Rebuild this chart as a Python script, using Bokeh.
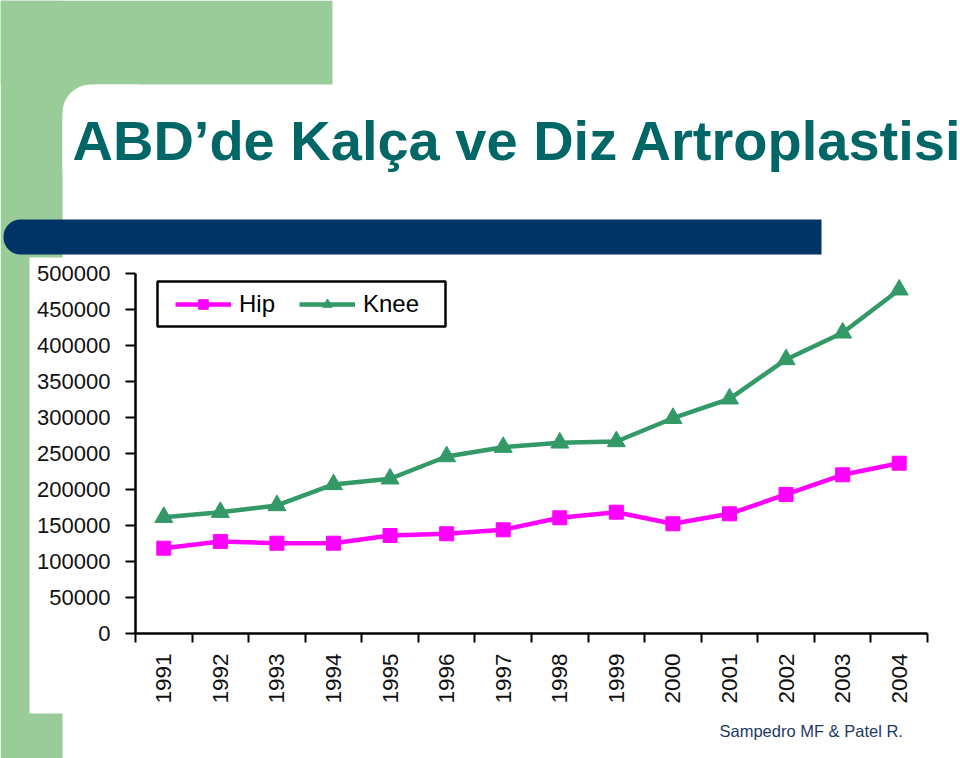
import math
from bokeh.plotting import figure
from bokeh.models import (BoxAnnotation, Label, FixedTicker, NumeralTickFormatter,
                          Range1d, Legend, LegendItem, GridBox)
from bokeh.embed import file_html
from bokeh.resources import INLINE

# ---- data ----
years = [1991, 1992, 1993, 1994, 1995, 1996, 1997, 1998, 1999, 2000, 2001, 2002, 2003, 2004]
hip = [118500, 127800, 125400, 125400, 136100, 138500, 144000, 160700, 168500, 152400,
       166200, 193100, 220400, 236500]
knee = [161500, 168500, 177800, 207000, 214900, 245800, 258800, 264800, 266700, 299000,
        326000, 380600, 417600, 477400]
y_ticks = [0, 50000, 100000, 150000, 200000, 250000, 300000, 350000, 400000, 450000, 500000]
series_names = ["Hip", "Knee"]
title_text = "ABD\u2019de Kalça ve Diz Artroplastisi"
source_text = "Sampedro MF & Patel R."

W, H = 960, 758
FL, FR, FT, FB = 135, 927, 273, 633  # chart frame edges in page pixels
FONT = "Liberation Sans"
GREEN = "#99CC99"
HIP_C = "#FF00FF"
KNEE_C = "#339966"

# ================= slide background (full-page frame) =================
bg = figure(width=W, height=H, output_backend="svg", toolbar_location=None,
            x_range=Range1d(0, W), y_range=Range1d(H, 0),
            x_axis_location=None, y_axis_location=None,
            min_border=0, min_border_left=0, min_border_right=0,
            min_border_top=0, min_border_bottom=0)
bg.outline_line_color = None
bg.grid.visible = False
bg.background_fill_color = "white"
bg.border_fill_color = "white"
bg.frame_align = False


def sbox(l, t, r, b, color, radius=None, line_color=None, line_width=0, fill_alpha=1.0,
         ox=0, oy=H):
    kw = dict(left=l - ox, right=r - ox, top=oy - t, bottom=oy - b,
              left_units="screen", right_units="screen",
              top_units="screen", bottom_units="screen",
              fill_color=color, fill_alpha=fill_alpha,
              line_color=line_color, line_width=line_width, line_alpha=1.0,
              editable=False)
    if radius is not None:
        kw["border_radius"] = radius
    return BoxAnnotation(**kw)


for d in [
    sbox(0, 0, 332, 84, GREEN),
    sbox(0, 0, 62, H, GREEN),
    sbox(60, 82, 95, 117, GREEN),
    sbox(29, 257, 63, 713, "white"),
    sbox(62, 84, 140, 170, "white", radius=(28, 0, 0, 0)),
    sbox(3, 219, 821, 254, "#003366", radius=(17, 0, 0, 17)),
]:
    bg.add_layout(d)

bg.add_layout(Label(x=72, y=H - 140, x_units="screen", y_units="screen",
                    text=title_text, text_font=FONT, text_font_style="bold",
                    text_font_size="56px", text_color="#006666",
                    text_baseline="alphabetic", text_align="left"))
bg.add_layout(Label(x=719, y=H - 730, x_units="screen", y_units="screen",
                    text=source_text, text_font=FONT,
                    text_font_size="16.5px", text_color="#1F3864",
                    text_baseline="alphabetic", text_align="left"))

# ================= chart =================
p = figure(width=W, height=H, output_backend="svg", toolbar_location=None,
           x_range=Range1d(years[0] - 0.5, years[-1] + 0.5),
           y_range=Range1d(y_ticks[0], y_ticks[-1]),
           min_border_left=FL, min_border_right=W - FR,
           min_border_top=FT, min_border_bottom=H - FB)
p.outline_line_color = None
p.background_fill_color = None
p.border_fill_color = None
p.grid.visible = False
p.frame_align = False

hl = p.line(years, hip, line_color=HIP_C, line_width=4.5)
hm = p.scatter(years, hip, marker="square", size=14, fill_color=HIP_C, line_color=HIP_C)
kl = p.line(years, knee, line_color=KNEE_C, line_width=4.5)
km = p.scatter(years, knee, marker="triangle", size=18, fill_color=KNEE_C, line_color=KNEE_C)

legend = Legend(items=[LegendItem(label=series_names[0], renderers=[hl, hm]),
                       LegendItem(label=series_names[1], renderers=[kl, km])],
                orientation="horizontal", location=(175 - FL, FB - 318),
                padding=0, spacing=24, glyph_width=56, glyph_height=24,
                label_standoff=8, label_text_font=FONT, label_text_font_size="24px",
                label_text_color="black",
                border_line_alpha=0, background_fill_alpha=0)
p.add_layout(legend)
p.add_layout(sbox(157, 281, 445, 326, "white", line_color="black", line_width=2.5,
                  fill_alpha=0, ox=FL, oy=FB))

xa = p.xaxis[0]
xa.ticker = FixedTicker(ticks=years, minor_ticks=[y - 0.5 for y in years] + [years[-1] + 0.5])
xa.major_label_overrides = {y: str(y) for y in years}
xa.major_tick_out = 0
xa.major_tick_in = 0
xa.minor_tick_out = 9
xa.minor_tick_in = 0
xa.minor_tick_line_color = "black"
xa.minor_tick_line_width = 2
xa.axis_line_color = "black"
xa.axis_line_width = 2.5
xa.major_label_orientation = math.pi / 2
xa.major_label_standoff = 11
xa.major_label_text_font = FONT
xa.major_label_text_font_size = "22.5px"
xa.major_label_text_color = "#111111"

ya = p.yaxis[0]
ya.ticker = FixedTicker(ticks=y_ticks)
ya.formatter = NumeralTickFormatter(format="0")
ya.major_tick_out = 10
ya.major_tick_in = 0
ya.minor_tick_out = 0
ya.minor_tick_in = 0
ya.major_tick_line_color = "black"
ya.major_tick_line_width = 2
ya.axis_line_color = "black"
ya.axis_line_width = 2.5
ya.major_label_standoff = 15
ya.major_label_text_font = FONT
ya.major_label_text_font_size = "22px"
ya.major_label_text_color = "#111111"

page = GridBox(children=[(bg, 0, 0), (p, 0, 0)])
open("out.html", "w").write(file_html(page, INLINE))
